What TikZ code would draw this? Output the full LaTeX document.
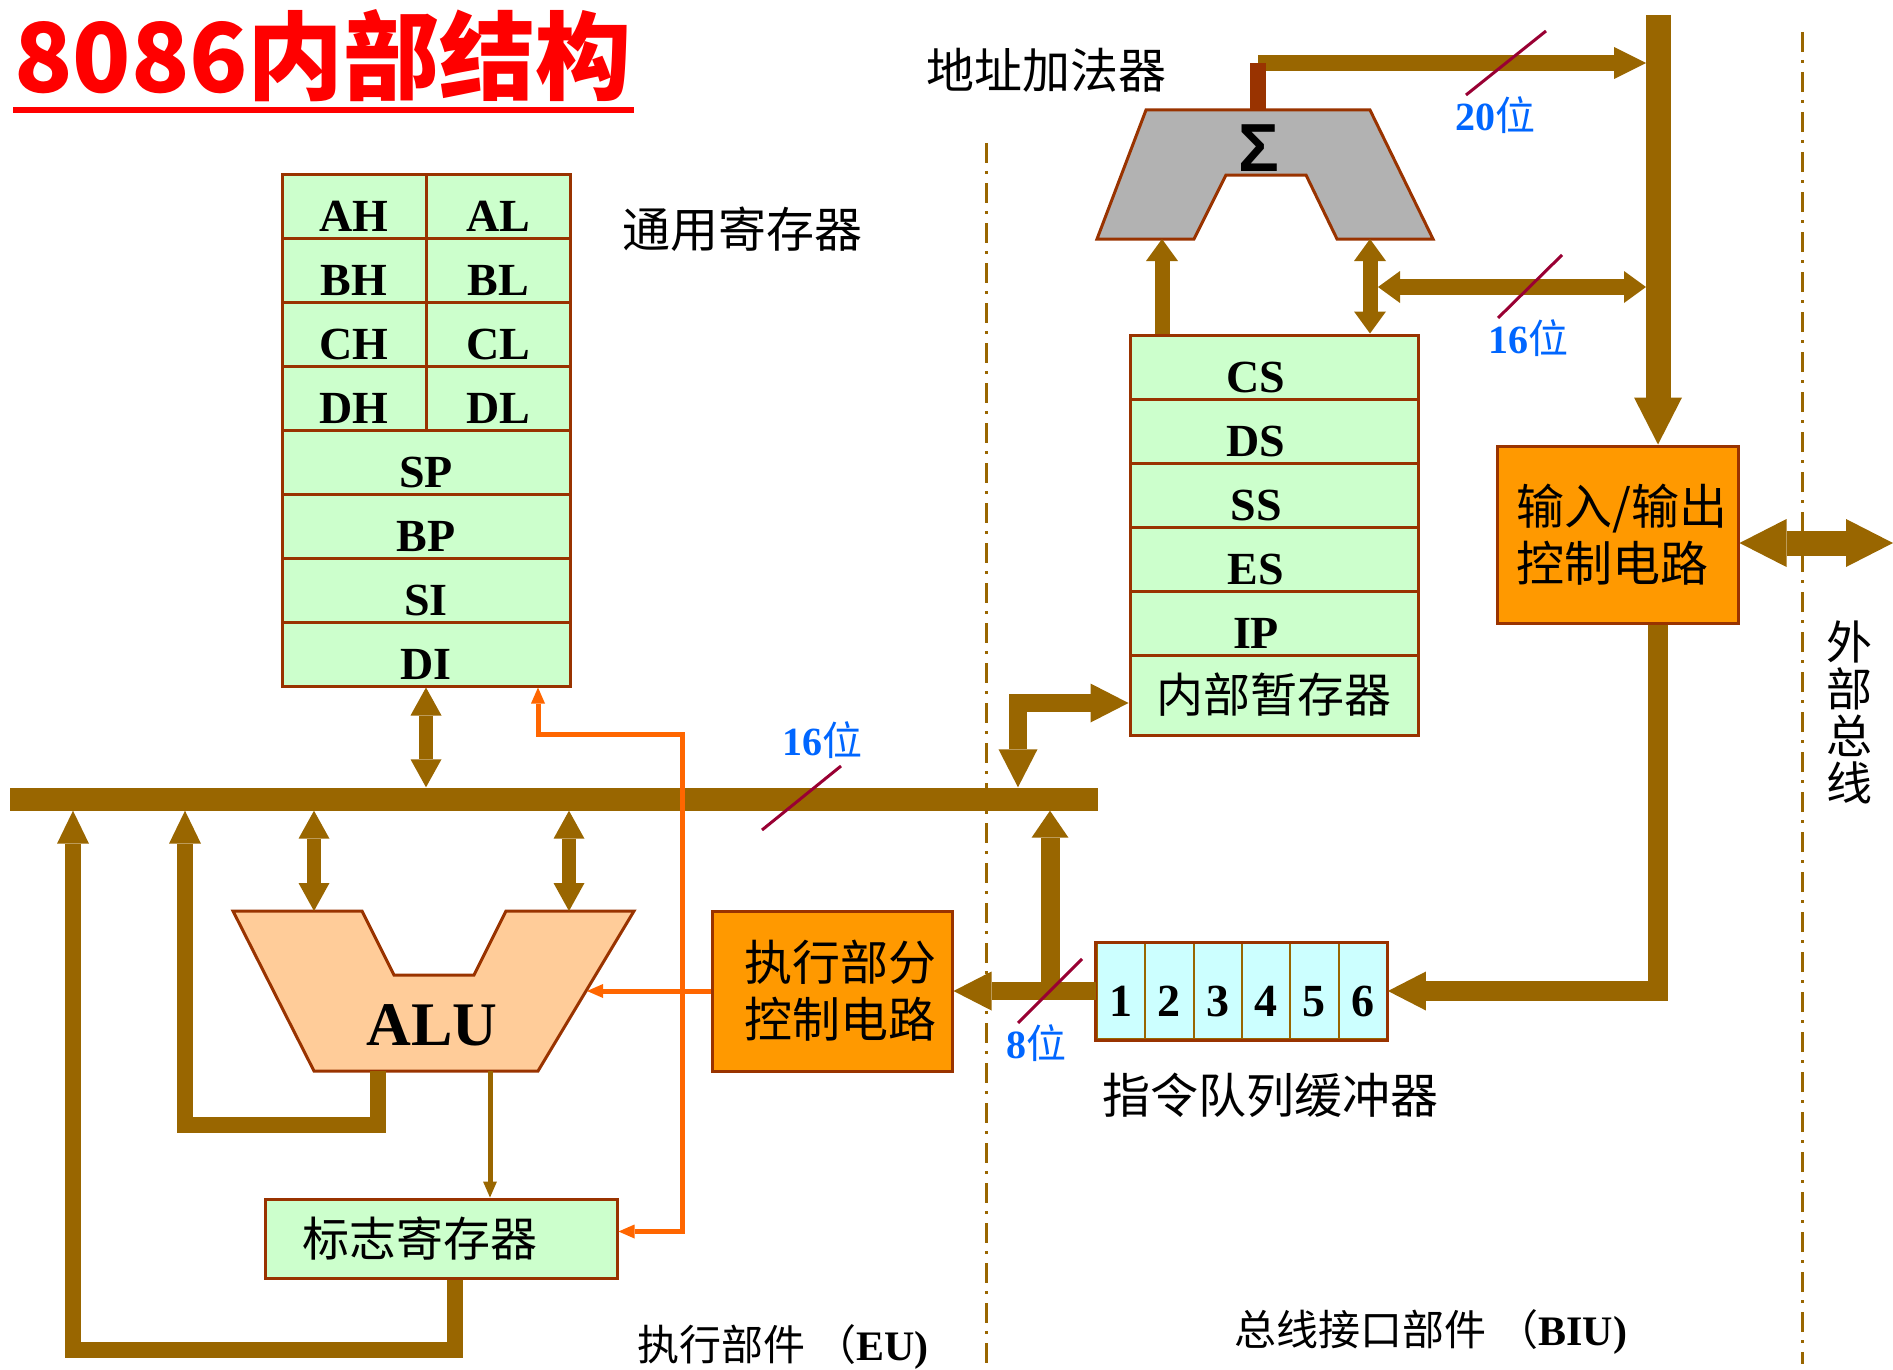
\documentclass[tikz,border=0pt]{standalone}
\usepackage{fontspec}
\setmainfont{Liberation Serif}
\newfontfamily\cjk{Noto Sans CJK SC}
\newfontfamily\sansbold{Liberation Sans}
\usetikzlibrary{arrows.meta,calc}
\definecolor{busbrown}{HTML}{996600}
\definecolor{edgebrown}{HTML}{993300}
\definecolor{regfill}{HTML}{CCFFCC}
\definecolor{qfill}{HTML}{CCFFFF}
\definecolor{ctrlfill}{HTML}{FF9900}
\definecolor{ctrlline}{HTML}{FF6600}
\definecolor{labblue}{HTML}{0066FF}
\definecolor{slashred}{HTML}{990033}
\definecolor{sumgray}{HTML}{B2B2B2}
\definecolor{alufill}{HTML}{FFCC99}
\newcommand{\wei}[1]{{\bfseries #1}{\cjk 位}}

\begin{document}
\begin{tikzpicture}[x=1pt, y=-1pt,
  regbox/.style={draw=edgebrown, line width=3pt, fill=regfill, inner sep=0pt, minimum height=64pt, font=\fontsize{46}{48}\selectfont\bfseries},
  reghalf/.style={regbox, minimum width=144pt, text height=50pt, text depth=0pt},
  regwide/.style={regbox, minimum width=288pt, text height=50pt, text depth=0pt},
  segreg/.style={regwide, text width=288pt, align=center, execute at end node={\kern36pt\relax}},
  ctrlbox/.style={draw=edgebrown, line width=3pt, fill=ctrlfill, inner sep=0pt},
  ctrltxt/.style={inner sep=0pt, align=left, font=\cjk\fontsize{48}{57}\selectfont},
  qcell/.style={draw=busbrown, line width=2pt, fill=qfill, inner sep=0pt, minimum width=48.3pt, minimum height=96pt, text height=51pt, text depth=0pt, font=\fontsize{46}{48}\selectfont\bfseries},
  lbl/.style={inner sep=0pt, font=\cjk\fontsize{48}{50}\selectfont},
  wlbl/.style={inner sep=0pt, text=labblue, font=\fontsize{40}{42}\selectfont},
  slash/.style={slashred, line width=3pt},
  divider/.style={busbrown, line width=3pt, dash pattern=on 20pt off 8pt on 3pt off 9pt},
  fat/.style={busbrown, line width=#1, line join=miter},
  ctl/.style={ctrlline, line width=5pt, line join=miter},
  tipS/.tip={Triangle[length=28pt,width=31pt,line width=0pt]},
  tipU/.tip={Triangle[length=33pt,width=32pt,line width=0pt]},
  tipM/.tip={Triangle[length=38pt,width=39pt,line width=0pt]},
  tipL/.tip={Triangle[length=47pt,width=48pt,line width=0pt]},
  tipH/.tip={Triangle[length=22pt,width=32pt,line width=0pt]},
  tipT/.tip={Triangle[length=16pt,width=14pt,line width=0pt]}
]
  \useasboundingbox (0,0) rectangle (1893,1370);

  % unit borders
  \draw[divider] (986,143) -- (986,1364);
  \draw[divider] (1802,32) -- (1802,1364);

  % title
  \node[inner sep=0pt, text=red, font=\cjk\bfseries\fontsize{96}{100}\selectfont] (title) at (323,56) {8086内部结构};
  \draw[red, line width=6pt] (13,110) -- (634,110);

  % general registers
  \node[reghalf] (ah) at (354,206) {AH};
  \node[reghalf] (al) at (498,206) {AL};
  \node[reghalf] (bh) at (354,270) {BH};
  \node[reghalf] (bl) at (498,270) {BL};
  \node[reghalf] (ch) at (354,334) {CH};
  \node[reghalf] (cl) at (498,334) {CL};
  \node[reghalf] (dh) at (354,398) {DH};
  \node[reghalf] (dl) at (498,398) {DL};
  \node[regwide] (sp) at (426,462) {SP};
  \node[regwide] (bp) at (426,526) {BP};
  \node[regwide] (si) at (426,590) {SI};
  \node[regwide] (di) at (426,654) {DI};
  \node[lbl] (genlbl) at (742,229) {通用寄存器};

  % segment registers
  \node[segreg] (cs) at (1274,367) {CS};
  \node[segreg] (ds) at (1274,431) {DS};
  \node[segreg] (ss) at (1274,495) {SS};
  \node[segreg] (es) at (1274,559) {ES};
  \node[segreg] (ip) at (1274,623) {IP};
  \node[regbox, minimum width=288pt, minimum height=80pt, font=\cjk\fontsize{47}{50}\selectfont] (tmp) at (1274,695) {内部暂存器};

  % address adder
  \draw[edgebrown, line width=3pt, fill=sumgray, line join=miter] (1146,110) -- (1370,110) -- (1433,239) -- (1337,239) -- (1306,175) -- (1226,175) -- (1194,239) -- (1097,239) -- cycle;
  \node[inner sep=0pt, font=\sansbold\bfseries\fontsize{68}{70}\selectfont] (sum) at (1259,148) {Σ};
  \node[lbl] (addlbl) at (1046,70) {地址加法器};
  \coordinate (sumO) at (1258,110);
  \coordinate (sumtop) at (1258,63);
  \coordinate (sumL) at (1162,239);
  \coordinate (sumR) at (1370,239);

  % control boxes
  \node[ctrlbox, minimum width=241pt, minimum height=177pt] (io) at (1617.5,534.5) {};
  \node[ctrltxt, anchor=west] (iotxt) at ([xshift=21pt]io.west) {输入/输出\\控制电路};
  \node[ctrlbox, minimum width=240pt, minimum height=160pt] (exu) at (832,991) {};
  \node[ctrltxt, anchor=west] (exutxt) at ([xshift=34pt]exu.west) {执行部分\\控制电路};

  % instruction queue
  \foreach \n in {1,...,6}
    \node[qcell] (q\n) at ({1072.8+48.33*\n},991) {\n};
  \draw[edgebrown, line width=3pt] (q1.north west) rectangle (q6.south east);
  \node[lbl] (qlbl) at (1270,1095) {指令队列缓冲器};

  % ALU
  \draw[edgebrown, line width=3pt, fill=alufill, line join=miter] (233,911) -- (362,911) -- (394,975) -- (474,975) -- (506,911) -- (634,911) -- (538,1071) -- (314,1071) -- cycle;
  \node[inner sep=0pt, font=\fontsize{62}{64}\selectfont\bfseries] (alu) at (432,1025) {ALU};
  \coordinate (aluA) at (314,911);
  \coordinate (aluB) at (569,911);
  \coordinate (aluF) at (378,1071);
  \coordinate (aluS) at (490,1071);
  \coordinate (aluC) at (587,991);

  % flags
  \node[regbox, minimum width=352pt, minimum height=79pt, text width=278pt, inner xsep=37pt, align=left, font=\cjk\fontsize{47}{50}\selectfont] (flag) at (441,1238.5) {标志寄存器};

  % internal bus
  \node[fill=busbrown, inner sep=0pt, minimum width=1088pt, minimum height=23pt] (bus) at (554,799) {};
  \draw[fat=14pt, {tipS}-{tipS}] (di.south) -- (di.south |- bus.north);
  \draw[fat=14pt, {tipS}-{tipS}] (aluA |- bus.south) -- (aluA);
  \draw[fat=14pt, {tipS}-{tipS}] (aluB |- bus.south) -- (aluB);
  \coordinate (aluloop) at (185,1125);
  \draw[fat=16pt, -{tipU}] (aluF) |- (aluloop) -- (aluloop |- bus.south);
  \coordinate (flagloop) at (73,1350);
  \draw[fat=16pt, -{tipU}] ([xshift=14pt]flag.south) |- (flagloop) -- (flagloop |- bus.south);
  \draw[fat=5pt, -{tipT}] (aluS) -- (aluS |- flag.north);

  % BIU paths
  \coordinate (abtop) at (1658,15);
  \draw[fat=25pt, -{tipL}] (abtop) -- (abtop |- io.north);
  \draw[fat=16pt, -{Triangle[length=32pt,width=32pt,line width=0pt]}] (sumtop) -- ($(sumtop -| abtop)+(-12,0)$);
  \draw[edgebrown, line width=16pt] (sumO) -- (sumtop);
  \coordinate (segbus) at (1378,287);
  \draw[fat=16pt, {tipH}-{tipH}] (segbus) -- ($(segbus -| abtop)+(-12,0)$);
  \draw[fat=15pt, {tipH}-{tipH}] (sumR) -- (sumR |- cs.north);
  \draw[fat=15pt, -{tipH}] (sumL |- cs.north) -- (sumL);
  \coordinate (ext) at (1893,543);
  \draw[fat=25pt, {tipL}-{tipL}] (io.east |- ext) -- (ext);
  \draw[fat=20pt, -{tipM}] (abtop |- io.south) |- (q6.east);
  \draw[fat=18pt, -{tipM}] (q1.west) -- (exu.east);
  \coordinate (qbr) at (1050,991);
  \draw[fat=19pt, -{Triangle[length=27pt,width=37pt,line width=0pt]}] (qbr) -- (qbr |- bus.south);
  \coordinate (tbr) at (1018,703);
  \draw[fat=18pt, {tipM}-{tipM}] (tbr |- bus.north) |- ([yshift=-8pt]tmp.west);

  % control lines
  \draw[ctl, -{tipT}] (exu.west) -- (aluC);
  \coordinate (ctlbend) at (682,734);
  \draw[ctl, {tipT}-{tipT}] ([yshift=7pt]flag.east) -| (ctlbend) -| ([xshift=112pt]di.south);

  % widths
  \node[wlbl] (w20) at (1495,115) {\wei{20}};
  \draw[slash] ($(w20)+(-29,-20)$) -- ++(80,-64);
  \node[wlbl] (w16a) at (1528,338) {\wei{16}};
  \draw[slash] ($(w16a)+(-30,-20)$) -- ++(64,-63);
  \node[wlbl] (w16b) at (822,740) {\wei{16}};
  \draw[slash] ($(w16b)+(-60,90)$) -- ++(79,-64);
  \node[wlbl] (w8) at (1036,1043) {\wei{8}};
  \draw[slash] ($(w8)+(-18,-20)$) -- ++(64,-64);

  % unit names
  \node[lbl, align=center, font=\cjk\fontsize{46}{47}\selectfont] (extlbl) at (1849,712) {外\\部\\总\\线};
  \node[lbl, font=\cjk\fontsize{42}{44}\selectfont] (eulbl) at (783,1347) {执行部件 （{\rmfamily\bfseries EU)}};
  \node[lbl, font=\cjk\fontsize{42}{44}\selectfont] (biulbl) at (1431,1332) {总线接口部件 （{\rmfamily\bfseries BIU)}};
\end{tikzpicture}
\end{document}
